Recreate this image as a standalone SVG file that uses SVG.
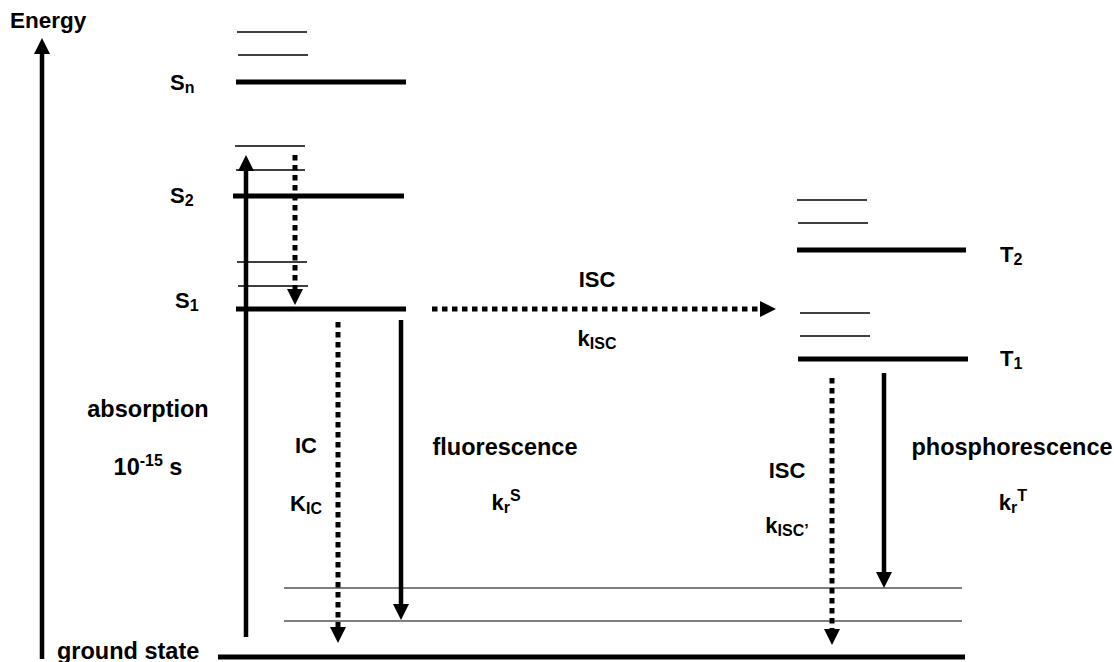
<svg xmlns="http://www.w3.org/2000/svg" width="1114" height="662" viewBox="0 0 1114 662">
<style>
text{font-family:"Liberation Sans",Arial,sans-serif;font-weight:bold;font-size:23.5px;fill:#000}
.c{text-anchor:middle}
.sm{font-size:22px}
.sub{font-size:16px}
.thick{stroke:#000;stroke-width:5;fill:none}
.thin{stroke:#000;stroke-width:1.6;fill:none}
.hair{stroke:#000;stroke-width:1.2;fill:none}
.solid{stroke:#000;stroke-width:4.5;fill:none}
.dot{stroke:#000;stroke-width:5;fill:none;stroke-dasharray:5.5 4.5}
</style>
<defs>
<marker id="ah" viewBox="0 0 16 16" markerWidth="16" markerHeight="16" refX="0" refY="8" orient="auto" markerUnits="userSpaceOnUse">
<path d="M0,0 L16,8 L0,16 z" fill="#000"/>
</marker>
</defs>
<rect width="1114" height="662" fill="#fff"/>

<g id="energy-axis">
<text x="10" y="28" style="font-size:22.5px">Energy</text>
</g>

<g id="Sn">
<line class="thin" x1="237" y1="32" x2="307" y2="32"/>
<line class="thin" x1="238" y1="55" x2="308" y2="55"/>
<line class="thick" x1="236" y1="82" x2="406" y2="82"/>
<text class="sm" x="170" y="90">S<tspan class="sub" dy="3">n</tspan></text>
</g>

<g id="S2">
<line class="thin" x1="235" y1="146" x2="305" y2="146"/>
<line class="thin" x1="236" y1="170" x2="305" y2="170"/>
<line class="thick" x1="233" y1="196" x2="404" y2="196"/>
<text class="sm" x="170" y="203">S<tspan class="sub" dy="3">2</tspan></text>
</g>

<g id="S1">
<line class="thin" x1="237" y1="262" x2="307" y2="262"/>
<line class="thin" x1="238" y1="286" x2="308" y2="286"/>
<line class="thick" x1="236" y1="309" x2="406" y2="309"/>
<text class="sm" x="175" y="308">S<tspan class="sub" dy="3">1</tspan></text>
</g>

<g id="T2">
<line class="thin" x1="797" y1="200" x2="867" y2="200"/>
<line class="thin" x1="798" y1="223" x2="868" y2="223"/>
<line class="thick" x1="797" y1="250" x2="966" y2="250"/>
<text class="sm" x="1000" y="262">T<tspan class="sub" dy="3">2</tspan></text>
</g>

<g id="T1">
<line class="thin" x1="800" y1="313" x2="870" y2="313"/>
<line class="thin" x1="800" y1="336" x2="870" y2="336"/>
<line class="thick" x1="798" y1="359" x2="968" y2="359"/>
<text class="sm" x="1000" y="366">T<tspan class="sub" dy="3">1</tspan></text>
</g>

<g id="S0">
<line class="hair" x1="284" y1="588" x2="962" y2="588"/>
<line class="hair" x1="284" y1="621" x2="962" y2="621"/>
<line class="thick" x1="218" y1="657" x2="965" y2="657"/>
<text x="57" y="659">ground state</text>
</g>

<g id="connectors">
<line class="solid" x1="42" y1="659" x2="42" y2="54" marker-end="url(#ah)"/>
<line class="solid" x1="246" y1="637" x2="246" y2="171" marker-end="url(#ah)"/>
<line class="dot" x1="295" y1="155" x2="295" y2="289" marker-end="url(#ah)"/>
<line class="dot" x1="432" y1="309" x2="760" y2="309" marker-end="url(#ah)"/>
<line class="dot" x1="338" y1="322" x2="338" y2="627" marker-end="url(#ah)"/>
<line class="solid" x1="401" y1="320" x2="401" y2="604" marker-end="url(#ah)"/>
<line class="dot" x1="832" y1="378" x2="832" y2="629" marker-end="url(#ah)"/>
<line class="solid" x1="884" y1="373" x2="884" y2="572" marker-end="url(#ah)"/>
</g>

<g id="label-absorption">
<text class="c" x="148" y="417">absorption</text>
<text class="c" x="148" y="475">10<tspan class="sub" dy="-9">-15</tspan><tspan dy="9"> s</tspan></text>
</g>
<g id="label-IC">
<text class="c sm" x="306" y="453">IC</text>
<text class="c sm" x="306" y="511">K<tspan class="sub" dy="3">IC</tspan></text>
</g>
<g id="label-fluorescence">
<text class="c" x="505" y="455">fluorescence</text>
<text class="c sm" x="506" y="510">k<tspan class="sub" dy="3">r</tspan><tspan class="sub" dy="-12">S</tspan></text>
</g>
<g id="label-ISC">
<text class="c sm" x="597" y="287">ISC</text>
<text class="c sm" x="597" y="346">k<tspan class="sub" dy="3">ISC</tspan></text>
</g>
<g id="label-ISC2">
<text class="c sm" x="787" y="478">ISC</text>
<text class="c sm" x="787" y="533">k<tspan class="sub" dy="3">ISC’</tspan></text>
</g>
<g id="label-phosphorescence">
<text class="c" x="1012" y="455">phosphorescence</text>
<text class="c sm" x="1013" y="510">k<tspan class="sub" dy="3">r</tspan><tspan class="sub" dy="-12">T</tspan></text>
</g>
</svg>
